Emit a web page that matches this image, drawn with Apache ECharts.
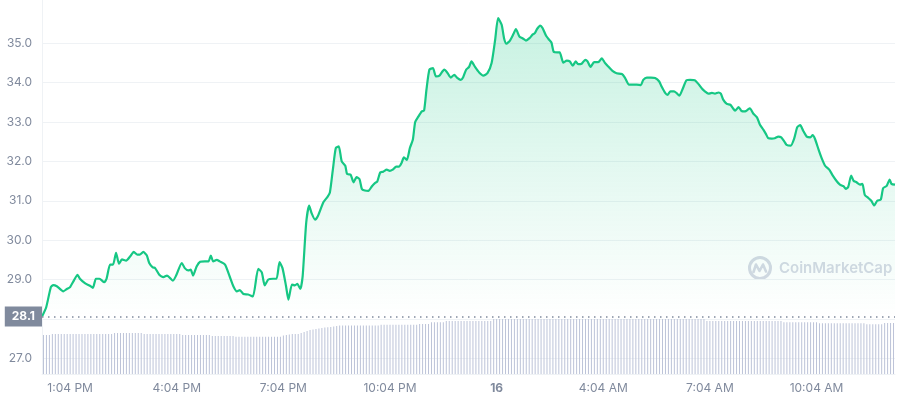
<!DOCTYPE html>
<html>
<head>
<meta charset="utf-8">
<title>Price chart</title>
<script src="https://cdn.jsdelivr.net/npm/echarts@6/dist/echarts.min.js"></script>
<style>
    html, body { margin: 0; padding: 0; background: #fff; }
    #main { width: 898px; height: 400px; }
</style>
</head>
<body>
<div id="main"></div>
<script type="text/javascript">
    // price line: minutes since the left edge of the chart, and price
    var priceMinutes = [
        0, 7, 15, 19, 25, 36, 42, 47, 54, 60,
        64, 73, 80, 86, 91, 97, 105, 109, 115, 120,
        125, 130, 135, 142, 149, 155, 161, 165, 171, 177,
        181, 187, 191, 198, 205, 211, 221, 227, 236, 241,
        247, 251, 255, 261, 267, 275, 281, 285, 289, 295,
        300, 309, 317, 323, 329, 334, 340, 348, 356, 365,
        371, 376, 382, 390, 396, 401, 406, 412, 416, 422,
        427, 431, 436, 440, 446, 451, 455, 461, 466, 475,
        482, 486, 491, 496, 501, 506, 512, 515, 521, 526,
        531, 536, 540, 545, 551, 557, 562, 566, 571, 576,
        582, 587, 592, 598, 603, 607, 611, 616, 621, 626,
        630, 635, 641, 645, 649, 654, 660, 665, 671, 679,
        684, 690, 696, 701, 707, 711, 716, 721, 725, 731,
        738, 745, 752, 759, 765, 770, 776, 780, 784, 790,
        796, 800, 806, 811, 817, 823, 828, 832, 836, 841,
        845, 851, 855, 860, 864, 870, 874, 880, 886, 891,
        896, 901, 905, 911, 917, 921, 926, 932, 939, 945,
        950, 956, 963, 970, 979, 984, 991, 998, 1004, 1011,
        1015, 1021, 1028, 1035, 1042, 1046, 1052, 1056, 1061, 1067,
        1071, 1076, 1082, 1088, 1094, 1102, 1108, 1114, 1119, 1125,
        1131, 1136, 1142, 1146, 1150, 1156, 1162, 1166, 1170, 1176,
        1181, 1187, 1191, 1195, 1201, 1207, 1212, 1218, 1222, 1226,
        1232, 1237, 1243, 1248, 1253, 1257, 1264, 1270, 1275, 1280,
        1285, 1291, 1297, 1301, 1305, 1311, 1316, 1322, 1329, 1335,
        1342, 1347, 1353, 1357, 1361, 1366, 1370, 1375, 1381, 1385,
        1389, 1395, 1400, 1405, 1410, 1416, 1420, 1426, 1431, 1434, 1440
    ];
    var prices = [
        28.06, 28.29, 28.81, 28.86, 28.83, 28.70, 28.76, 28.80, 28.98, 29.12,
        29.02, 28.90, 28.85, 28.79, 29.02, 29.02, 28.93, 29.02, 29.38, 29.38,
        29.68, 29.40, 29.51, 29.48, 29.59, 29.70, 29.63, 29.63, 29.70, 29.61,
        29.42, 29.31, 29.29, 29.12, 29.06, 29.10, 28.97, 29.12, 29.42, 29.29,
        29.23, 29.25, 29.10, 29.33, 29.45, 29.46, 29.46, 29.61, 29.46, 29.50,
        29.46, 29.38, 29.07, 28.83, 28.70, 28.73, 28.63, 28.62, 28.57, 29.27,
        29.18, 28.85, 29.00, 29.02, 29.02, 29.44, 29.29, 28.83, 28.49, 28.87,
        28.85, 28.89, 28.76, 29.08, 30.44, 30.88, 30.69, 30.52, 30.62, 30.96,
        31.10, 31.21, 31.79, 32.34, 32.38, 32.00, 31.89, 31.68, 31.66, 31.47,
        31.60, 31.55, 31.30, 31.26, 31.25, 31.37, 31.45, 31.49, 31.72, 31.74,
        31.79, 31.76, 31.79, 31.87, 31.87, 31.96, 32.10, 32.04, 32.34, 32.55,
        33.00, 33.13, 33.27, 33.29, 33.82, 34.33, 34.37, 34.16, 34.18, 34.33,
        34.26, 34.13, 34.20, 34.12, 34.07, 34.14, 34.33, 34.40, 34.54, 34.40,
        34.26, 34.18, 34.24, 34.50, 35.09, 35.64, 35.47, 35.13, 34.99, 35.07,
        35.24, 35.36, 35.17, 35.13, 35.07, 35.13, 35.22, 35.26, 35.37, 35.45,
        35.39, 35.19, 35.11, 35.02, 34.78, 34.77, 34.77, 34.51, 34.56, 34.54,
        34.43, 34.54, 34.47, 34.48, 34.58, 34.54, 34.40, 34.52, 34.52, 34.62,
        34.51, 34.41, 34.30, 34.24, 34.22, 34.13, 33.95, 33.95, 33.95, 33.94,
        34.07, 34.13, 34.13, 34.12, 34.03, 33.90, 33.74, 33.69, 33.78, 33.78,
        33.74, 33.67, 33.86, 34.06, 34.07, 34.06, 33.97, 33.85, 33.78, 33.72,
        33.74, 33.72, 33.75, 33.72, 33.57, 33.46, 33.44, 33.36, 33.29, 33.38,
        33.28, 33.27, 33.31, 33.35, 33.21, 33.12, 32.93, 32.80, 32.70, 32.59,
        32.58, 32.59, 32.63, 32.61, 32.51, 32.42, 32.40, 32.59, 32.87, 32.92,
        32.78, 32.63, 32.61, 32.67, 32.57, 32.30, 32.09, 31.89, 31.79, 31.64,
        31.49, 31.41, 31.37, 31.30, 31.35, 31.64, 31.51, 31.47, 31.41, 31.43,
        31.15, 31.07, 31.00, 30.88, 31.00, 31.03, 31.32, 31.38, 31.54, 31.43, 31.41
    ];
    var openPrice = 28.06;

    // volume, one bar per 5 minutes (288 bars)
    var volumes = [
        41.7, 41.7, 41.7,
        42.8, 42.8, 42.8, 42.8, 42.8, 42.8, 42.8, 42.8, 42.8, 42.8, 42.8, 42.8, 42.8, 42.8, 42.8, 42.8, 42.8, 42.8, 42.8, 42.8, 42.8,
        43.9, 43.9, 43.9, 43.9, 43.9, 43.9, 43.9, 43.9, 43.9, 43.9,
        42.8, 42.8, 42.8, 42.8, 42.8, 42.8, 42.8, 42.8, 42.8, 42.8, 42.8, 42.8, 42.8,
        41.7, 41.7, 41.7, 41.7, 41.7, 41.7, 41.7, 41.7, 41.7, 41.7,
        40.7, 40.7, 40.7, 40.7, 40.7, 40.7, 40.7, 40.7,
        39.9, 39.9, 39.9, 39.9, 39.9, 39.9, 39.9, 39.9, 39.9, 39.9, 39.9, 39.9, 39.9, 39.9, 39.9, 39.9,
        41.2, 41.7, 42.3, 42.8, 42.8, 42.8,
        43.9, 44.9, 46.0, 47.1,
        47.6, 48.2, 48.7,
        49.2, 49.8, 50.0,
        50.3, 50.8, 51.4,
        51.9, 51.9, 51.9, 51.9, 51.9, 51.9, 51.9, 51.9, 51.9, 51.9, 51.9, 51.9, 51.9, 51.9,
        52.8, 52.8, 52.8, 52.8, 52.8, 52.8, 52.8, 52.8, 52.8, 52.8, 52.8, 52.8, 52.8,
        53.5, 53.5, 53.5, 53.5,
        55.3, 55.3, 55.3, 55.3, 55.3,
        56.7, 56.7, 56.7, 56.7, 56.7, 56.7, 56.7, 56.7, 56.7, 56.7, 56.7, 56.7, 56.7, 56.7, 56.7, 56.7,
        58.9, 58.9, 58.9, 58.9, 58.9, 58.9, 58.9, 58.9, 58.9, 58.9, 58.9, 58.9,
        58.9, 58.9, 58.9, 58.9, 58.9, 58.9, 58.9, 58.9, 58.9, 58.9, 58.9, 58.9,
        58.9, 58.9, 58.9, 58.9, 58.9, 58.9, 58.9, 58.9, 58.9, 58.9, 58.9, 58.9,
        58.9, 58.9, 58.9, 58.9, 58.9, 58.9, 58.9, 58.9, 58.9, 58.9, 58.9, 58.9,
        58.9, 58.9, 58.9, 58.9, 58.9, 58.9, 58.9, 58.9, 58.9, 58.9, 58.9, 58.9,
        58.9, 58.9, 58.9, 58.9, 58.9, 58.9, 58.9, 58.9, 58.9, 58.9, 58.9, 58.9,
        56.7, 56.7, 56.7, 56.7, 56.7, 56.7, 56.7, 56.7, 56.7, 56.7, 56.7, 56.7, 56.7,
        56.7, 56.7, 56.7, 56.7, 56.7, 56.7, 56.7, 56.7, 56.7, 56.7, 56.7, 56.7, 56.7,
        55.3, 55.3, 55.3, 55.3, 55.3, 55.3, 55.3, 55.3, 55.3, 55.3, 55.3, 55.3,
        54.2, 54.2, 54.2, 54.2, 54.2, 54.2, 54.2, 54.2, 54.2, 54.2, 54.2, 54.2, 54.2, 54.2, 54.2, 54.2,
        53.2, 53.2, 53.2, 53.2, 53.2, 53.2,
        54.6, 54.6, 54.6, 54.6
    ];

    var tickTimes = ['1:04 PM', '4:04 PM', '7:04 PM', '10:04 PM', '1:04 AM', '4:04 AM', '7:04 AM', '10:04 AM'];
    var dayTick = '1:04 AM';
    var dayLabel = '16';
    var yTicks = [27, 28, 29, 30, 31, 32, 33, 34, 35];
    var yLabels = [27, 29, 30, 31, 32, 33, 34, 35];

    // 5 minute buckets, first one at 12:19 PM
    var categories = [];
    for (var i = 0; i < volumes.length; i++) {
        var t = 12 * 60 + 19 + i * 5;
        var h = Math.floor(t / 60) % 24, m = t % 60;
        var h12 = h % 12 === 0 ? 12 : h % 12;
        categories.push(h12 + ':' + (m < 10 ? '0' : '') + m + (h < 12 ? ' AM' : ' PM'));
    }

    var pricePoints = [];
    for (var j = 0; j < prices.length; j++) {
        pricePoints.push([priceMinutes[j], prices[j]]);
    }

    var showTick = function (idx, val) {
        return tickTimes.indexOf(val) >= 0;
    };

    var grey = '#808a9d';
    var gridGrey = '#eff2f5';
    var markGrey = '#d5d9e4';

    var myChart = echarts.init(document.getElementById('main'));
    var option = {
        animation: false,
        textStyle: { fontFamily: 'Inter' },
        grid: { left: 42, right: 3, top: 0, bottom: 26 },
        xAxis: [{
            type: 'category',
            data: categories,
            boundaryGap: true,
            axisLine: { lineStyle: { color: gridGrey } },
            axisTick: { alignWithLabel: true, length: 4, interval: showTick, lineStyle: { color: grey } },
            axisLabel: {
                interval: showTick,
                color: grey,
                fontSize: 12,
                margin: 8,
                formatter: function (v) { return v === dayTick ? '{d|' + dayLabel + '}' : v; },
                rich: { d: { fontWeight: 'bold', color: grey, fontSize: 12, fontFamily: 'Inter' } }
            },
            splitLine: { show: false }
        }, {
            type: 'value',
            min: 0,
            max: 1440,
            show: false
        }],
        yAxis: [{
            type: 'value',
            min: 26.6,
            max: 36.1,
            axisLine: { show: true, lineStyle: { color: gridGrey } },
            axisTick: { show: false, customValues: yTicks },
            axisLabel: {
                customValues: yLabels,
                color: grey,
                fontSize: 12,
                margin: 10,
                formatter: function (v) { return v.toFixed(1); }
            },
            splitLine: { show: true, lineStyle: { color: gridGrey } }
        }, {
            type: 'value',
            min: 0,
            max: 400,
            show: false
        }],
        graphic: [
            { type: 'circle', shape: { cx: 760, cy: 268, r: 10.5 }, style: { fill: 'none', stroke: markGrey, lineWidth: 3 }, z: 0 },
            { type: 'polyline', shape: { points: [[753.5, 272], [756, 264.5], [759.5, 271], [763, 264.5], [766, 271.5]] }, style: { fill: 'none', stroke: markGrey, lineWidth: 2.6, lineCap: 'round', lineJoin: 'round' }, z: 0 },
            { type: 'text', x: 779, y: 268, style: { text: 'CoinMarketCap', fill: markGrey, font: '600 15px Inter', textVerticalAlign: 'middle' }, z: 0 }
        ],
        series: [{
            type: 'bar',
            xAxisIndex: 0,
            yAxisIndex: 1,
            data: volumes,
            barWidth: 1,
            silent: true,
            itemStyle: { color: '#bcc3d8' }
        }, {
            type: 'line',
            xAxisIndex: 1,
            yAxisIndex: 0,
            data: pricePoints,
            showSymbol: false,
            smooth: 0.2,
            lineStyle: { color: '#16c784', width: 2.2 },
            areaStyle: {
                origin: openPrice,
                color: new echarts.graphic.LinearGradient(0, 0, 0, 1, [
                    { offset: 0, color: 'rgba(22,199,132,0.34)' },
                    { offset: 1, color: 'rgba(22,199,132,0)' }
                ])
            },
            markLine: {
                silent: true,
                symbol: 'none',
                lineStyle: { type: [1.5, 4.5], color: grey, width: 1.5 },
                label: {
                    position: 'start',
                    distance: 0,
                    formatter: openPrice.toFixed(1),
                    color: '#fff',
                    backgroundColor: grey,
                    fontWeight: 'bold',
                    fontSize: 12,
                    fontFamily: 'Inter',
                    lineHeight: 13,
                    padding: [4, 7, 3, 7]
                },
                data: [{ yAxis: openPrice }]
            }
        }]
    };
    myChart.setOption(option);
</script>
</body>
</html>
